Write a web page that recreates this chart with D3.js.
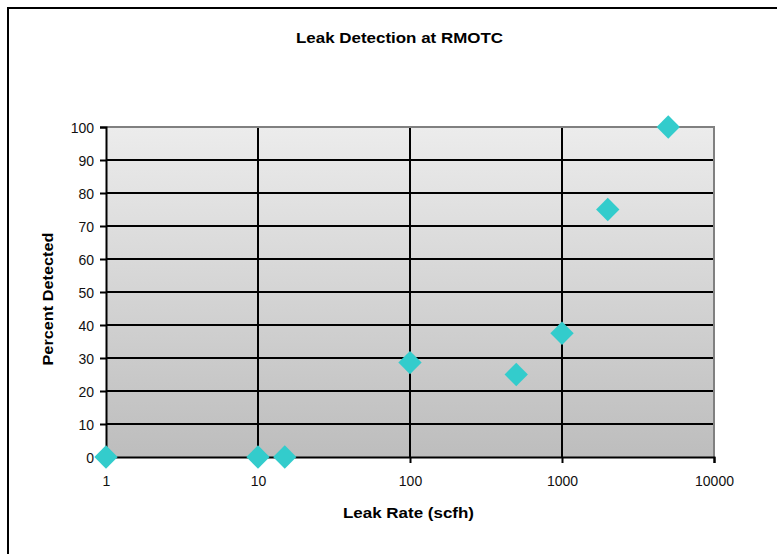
<!DOCTYPE html>
<html><head><meta charset="utf-8">
<script src="https://cdn.jsdelivr.net/npm/d3@7/dist/d3.min.js"></script>
<style>body{margin:0;background:#fff}svg{display:block}text{font-family:"Liberation Sans",Arial,sans-serif}</style>
</head><body>
<script>
const leakRates = [1, 10, 15, 100, 500, 1000, 2000, 5000];
const percentDetected = [0, 0, 0, 28.6, 25, 37.5, 75, 100];
const xTicks = [1, 10, 100, 1000, 10000];
const yTicks = [0, 10, 20, 30, 40, 50, 60, 70, 80, 90, 100];
const title = "Leak Detection at RMOTC";
const xLabel = "Leak Rate (scfh)";
const yLabel = "Percent Detected";

const W = 777, H = 554;
const L = 106, R = 714, T = 127, B = 457;
const svg = d3.select("body").append("svg").attr("width", W).attr("height", H);

svg.append("rect").attr("x", 8).attr("y", 8).attr("width", 900).attr("height", 900)
  .attr("fill", "none").attr("stroke", "#000").attr("stroke-width", 2);

const x = d3.scaleLog().domain([1, 10000]).range([L, R]);
const y = d3.scaleLinear().domain([0, 100]).range([B, T]);

const defs = svg.append("defs");
const g = defs.append("linearGradient").attr("id", "bg").attr("x1", 0).attr("y1", 0).attr("x2", 0).attr("y2", 1);
g.append("stop").attr("offset", "0%").attr("stop-color", "#ececec");
g.append("stop").attr("offset", "100%").attr("stop-color", "#bdbdbd");

svg.append("rect").attr("x", L).attr("y", T).attr("width", R - L).attr("height", B - T).attr("fill", "url(#bg)");

svg.append("g").selectAll("line").data(yTicks.filter(d => d > 0 && d < 100)).join("line")
  .attr("x1", L).attr("x2", R).attr("y1", d => y(d)).attr("y2", d => y(d))
  .attr("stroke", "#000").attr("stroke-width", 1.5).attr("shape-rendering", "crispEdges");
svg.append("g").selectAll("line").data(xTicks.filter(d => d > 1 && d < 10000)).join("line")
  .attr("y1", T).attr("y2", B).attr("x1", d => x(d)).attr("x2", d => x(d))
  .attr("stroke", "#000").attr("stroke-width", 1.5).attr("shape-rendering", "crispEdges");

svg.append("path").attr("d", `M${L},${T}H${R}V${B}`).attr("fill", "none")
  .attr("stroke", "#808080").attr("stroke-width", 2);

const yAxis = svg.append("g").attr("transform", `translate(${L},0)`)
  .call(d3.axisLeft(y).tickValues(yTicks).tickSize(6).tickPadding(6).tickFormat(d3.format("d")));
const xAxis = svg.append("g").attr("transform", `translate(0,${B})`)
  .call(d3.axisBottom(x).tickValues(xTicks).tickSize(6).tickPadding(13).tickFormat(d3.format("d")));
[yAxis, xAxis].forEach(a => {
  a.select(".domain").attr("stroke", "#000").attr("stroke-width", 2);
  a.selectAll(".tick line").attr("stroke", "#000").attr("stroke-width", 2);
  a.selectAll(".tick text").attr("fill", "#111").style("font-size", "14px")
    .style("font-family", '"Liberation Sans",Arial,sans-serif');
});
yAxis.selectAll(".tick text").attr("dy", "0.36em");

const sym = d3.symbol().type(d3.symbolSquare).size(272);
svg.append("g").selectAll("path").data(leakRates.map((v, i) => [v, percentDetected[i]])).join("path")
  .attr("d", sym)
  .attr("transform", d => `translate(${x(d[0])},${y(d[1])}) rotate(45)`)
  .attr("fill", "#33cccc");

svg.append("text").attr("x", 399.5).attr("y", 43).attr("text-anchor", "middle")
  .attr("textLength", 207).attr("lengthAdjust", "spacingAndGlyphs")
  .style("font-size", "15px").style("font-weight", "bold").text(title);
svg.append("text").attr("x", 408.5).attr("y", 518).attr("text-anchor", "middle")
  .attr("textLength", 131).attr("lengthAdjust", "spacingAndGlyphs")
  .style("font-size", "15px").style("font-weight", "bold").text(xLabel);
svg.append("text").attr("transform", `translate(53,299) rotate(-90)`).attr("text-anchor", "middle")
  .attr("textLength", 133).attr("lengthAdjust", "spacingAndGlyphs")
  .style("font-size", "15px").style("font-weight", "bold").text(yLabel);
</script>
</body></html>
